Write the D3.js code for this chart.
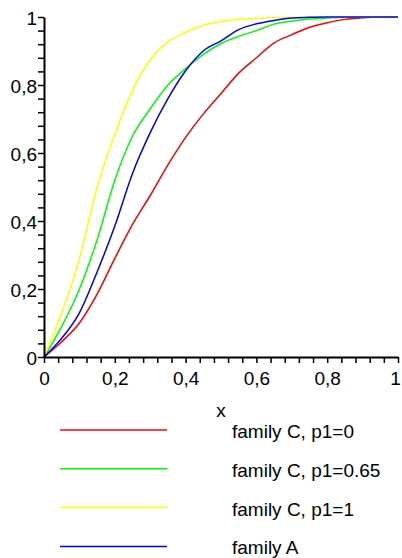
<!DOCTYPE html>
<html lang="en">
<head>
  <meta charset="UTF-8" />
  <title>Distribution functions</title>
  <script src="https://d3js.org/d3.v7.min.js"></script>
  <style>
    body { margin: 0; background: #fff; }
    svg { display: block; font-family: "Liberation Sans", Arial, sans-serif; }
    .axis text { font-size: 19px; fill: #000; }
  </style>
</head>
<body>
  <svg width="402" height="558"></svg>

  <script>
  // sample points on x (0 .. 1, step 0.05)
  const xs = [0, 0.05, 0.1, 0.15, 0.2, 0.25, 0.3, 0.35, 0.4, 0.45, 0.5,
              0.55, 0.6, 0.65, 0.7, 0.75, 0.8, 0.85, 0.9, 0.95, 1];

  const famC0   = [0, 0.045, 0.1, 0.185, 0.29, 0.39, 0.475, 0.565, 0.646, 0.715, 0.775,
                   0.835, 0.88, 0.924, 0.948, 0.97, 0.983, 0.993, 0.998, 1, 1];
  const famC065 = [0, 0.09, 0.2, 0.345, 0.52, 0.65, 0.73, 0.8, 0.848, 0.89, 0.922,
                   0.943, 0.96, 0.979, 0.988, 0.994, 0.997, 0.999, 1, 1, 1];
  const famC1   = [0, 0.13, 0.29, 0.5, 0.655, 0.785, 0.875, 0.927, 0.955, 0.976, 0.987,
                   0.993, 0.996, 0.998, 0.999, 1, 1, 1, 1, 1, 1];
  const famA    = [0, 0.055, 0.13, 0.25, 0.385, 0.54, 0.66, 0.76, 0.842, 0.9, 0.93,
                   0.963, 0.98, 0.99, 0.997, 0.999, 1, 1, 1, 1, 1];

  const names  = ["family C, p1=0", "family C, p1=0.65", "family C, p1=1", "family A"];
  const colors = ["#ff0000", "#00ff00", "#ffff00", "#0000ff"];
  const seriesValues = [famC0, famC065, famC1, famA];

  const svg = d3.select("svg");

  const x = d3.scaleLinear().domain([0, 1]).range([44, 398]);
  const y = d3.scaleLinear().domain([0, 1]).range([357, 17]);

  const minorTicks = d3.range(0, 26).map(i => i * 0.04);
  const fmt = v => {
    const r = Math.round(v * 100) / 100;
    if (Math.abs(r * 5 - Math.round(r * 5)) > 1e-6) return "";
    return String(r).replace(".", ",");
  };

  // curves
  const line = d3.line()
    .x((d, i) => x(xs[i]))
    .y(d => y(d))
    .curve(d3.curveMonotoneX);

  svg.append("g")
    .attr("fill", "none")
    .attr("stroke-width", 1.5)
    .selectAll("path")
    .data(seriesValues)
    .enter().append("path")
    .attr("stroke", (d, i) => colors[i])
    .attr("d", line);

  // axes
  const yAxis = svg.append("g")
    .attr("class", "axis")
    .attr("transform", `translate(${x(0)},0)`)
    .call(d3.axisLeft(y).tickValues(minorTicks).tickFormat(fmt)
      .tickSize(6).tickSizeOuter(0).tickPadding(1));

  const xAxis = svg.append("g")
    .attr("class", "axis")
    .attr("transform", `translate(0,${y(0)})`)
    .call(d3.axisBottom(x).tickValues(minorTicks).tickFormat(fmt)
      .tickSize(6).tickSizeOuter(0).tickPadding(9));

  [yAxis, xAxis].forEach(g => {
    g.select(".domain").attr("stroke-width", 2);
    g.selectAll(".tick line").attr("stroke-width", 1.5);
    g.selectAll("text").attr("font-family", null).attr("font-size", null);
  });
  yAxis.selectAll("text").attr("dy", "0.42em");
  // keep the last x label inside the picture
  xAxis.selectAll(".tick text").filter(d => d === 1)
    .attr("text-anchor", "end").attr("dx", "0.12em");

  // axis title
  svg.append("text")
    .attr("x", (x(0) + x(1)) / 2)
    .attr("y", 417)
    .attr("text-anchor", "middle")
    .style("font-size", "19px")
    .text("x");

  // legend
  const legend = svg.append("g")
    .selectAll("g")
    .data(names)
    .enter().append("g")
    .attr("transform", (d, i) => `translate(0,${430 + i * 38.8})`);

  legend.append("line")
    .attr("x1", 60).attr("x2", 167)
    .attr("stroke", (d, i) => colors[i])
    .attr("stroke-width", 1.5);

  legend.append("text")
    .attr("x", 232)
    .attr("y", 8)
    .style("font-size", "19px")
    .text(d => d);
  </script>
</body>
</html>
